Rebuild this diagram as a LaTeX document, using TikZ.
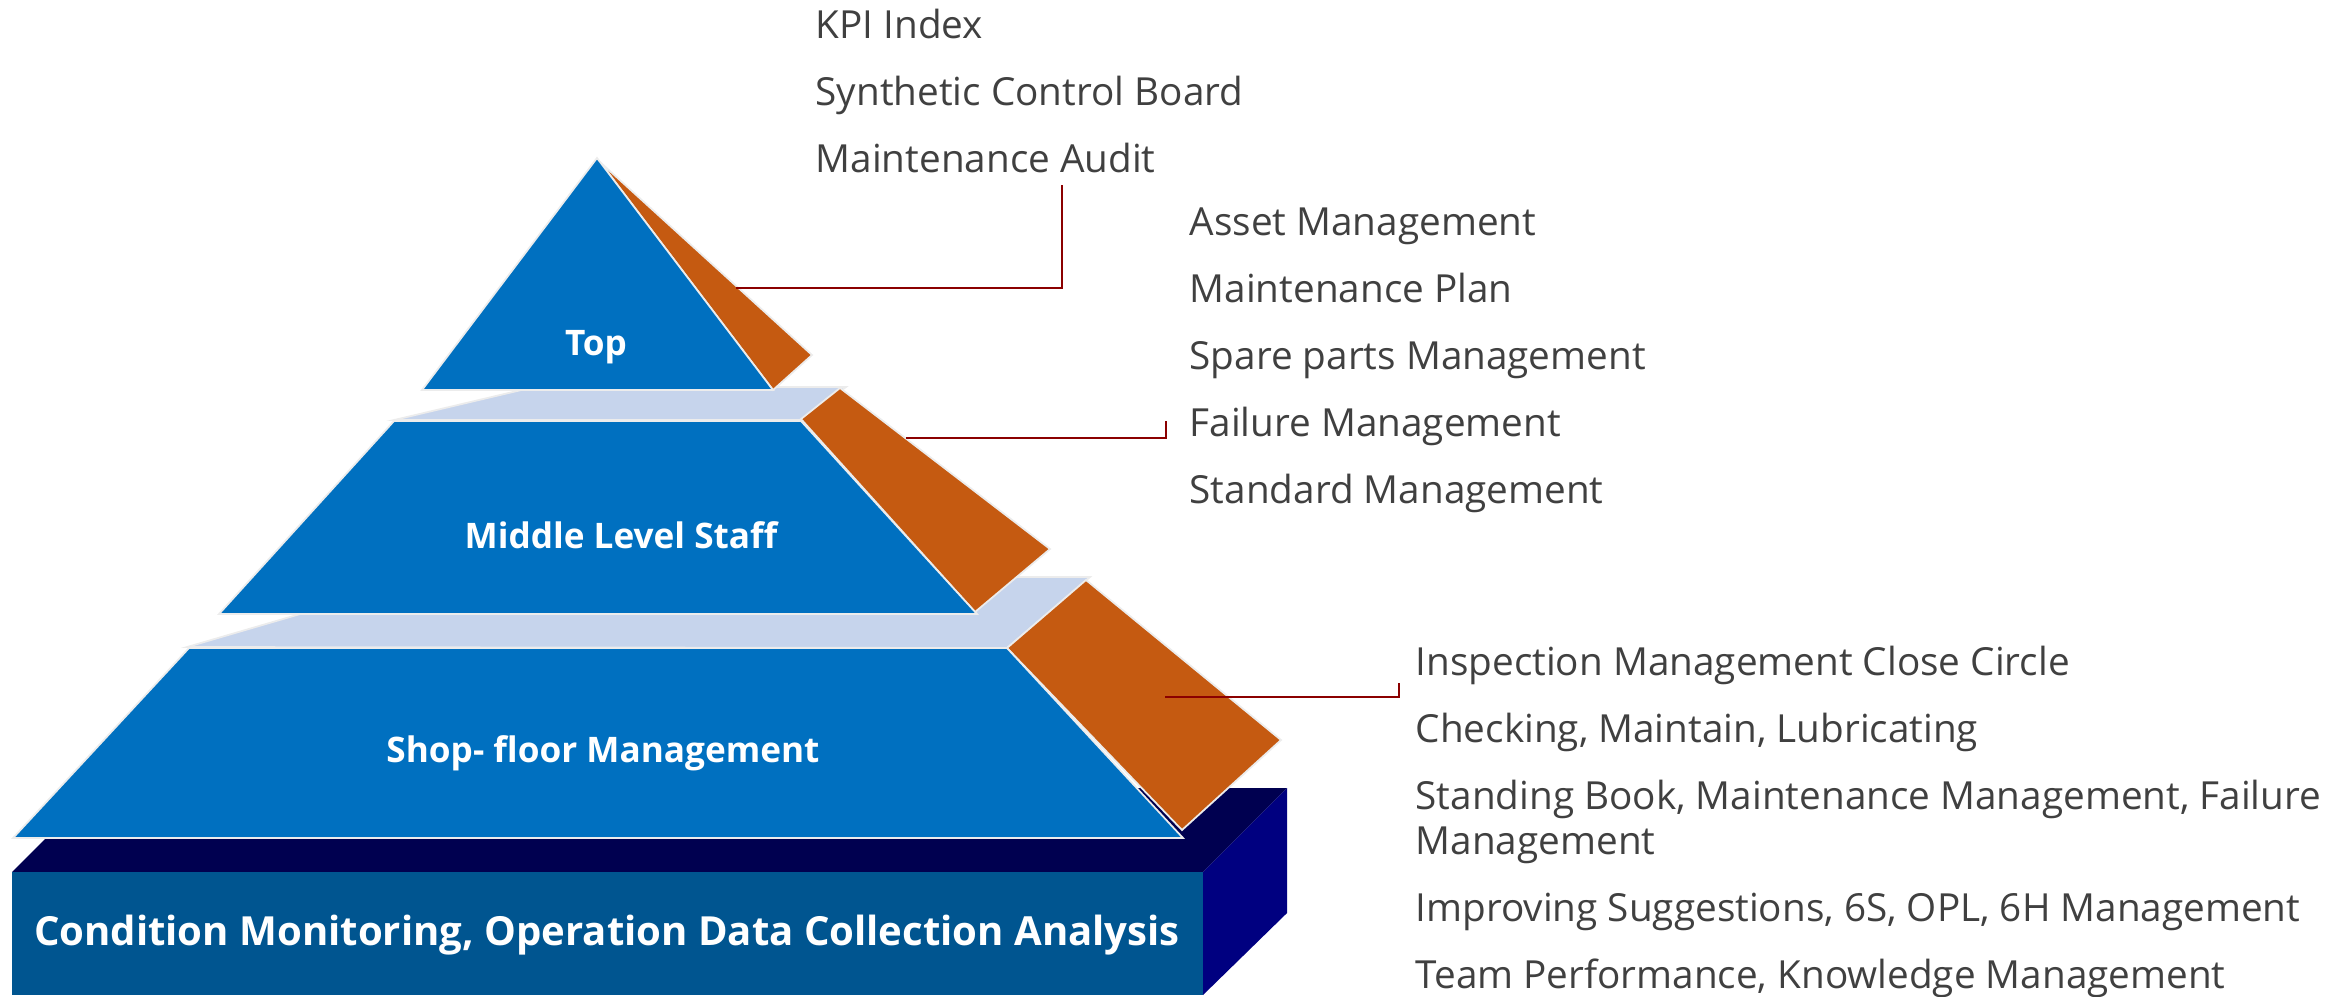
\documentclass[tikz,border=0pt]{standalone}
\usepackage{fontspec}
\setmainfont{Open Sans}
\usetikzlibrary{positioning}

\definecolor{lvlblue}{HTML}{0070C0}
\definecolor{lvlorange}{HTML}{C55A11}
\definecolor{lvlband}{HTML}{C6D4EC}
\definecolor{basefront}{HTML}{005590}
\definecolor{basetop}{HTML}{000050}
\definecolor{baseside}{HTML}{000080}
\definecolor{itemgray}{HTML}{404040}
\definecolor{linkred}{HTML}{8B0000}

\begin{document}
\begin{tikzpicture}[x=0.01cm,y=-0.01cm,
    face/.style={draw=gray!15,line width=0.5pt},
    lvl/.style={text=white,font=\bfseries\fontsize{10}{12}\selectfont,anchor=base,inner sep=0pt},
    item/.style={text=itemgray,font=\fontsize{11}{12.8}\selectfont,anchor=base west,inner sep=0pt,align=left},
    link/.style={draw=linkred,line width=0.7pt}]
    \useasboundingbox (0,0) rectangle (2346,996);

    % base block
    \fill[basetop]   (12,872) -- (96,788) -- (1287,788) -- (1203,872) -- cycle;
    \fill[baseside]  (1203,872) -- (1287,788) -- (1287,913) -- (1203,995) -- cycle;
    \fill[basefront] (12,872) rectangle (1203,995);

    % shop-floor level
    \filldraw[face,fill=lvlband]   (187,647) -- (427,577) -- (1090,577) -- (1007,648) -- cycle;
    \filldraw[face,fill=lvlorange] (1086,580) -- (1281,740) -- (1182,830) -- (1007,648) -- cycle;
    \filldraw[face,fill=lvlblue]   (189,648) -- (1007,648) -- (1183,838) -- (13,838) -- cycle;

    % middle level
    \filldraw[face,fill=lvlband]   (394,420) -- (534,387) -- (846,387) -- (801,420) -- cycle;
    \filldraw[face,fill=lvlorange] (840,388) -- (1050,549) -- (975,612) -- (801,419) -- cycle;
    \filldraw[face,fill=lvlblue]   (394,421) -- (801,421) -- (977,614) -- (219,614) -- cycle;

    % top level
    \filldraw[face,fill=lvlorange] (600,162) -- (812,355) -- (773,390) -- cycle;
    \filldraw[face,fill=lvlblue]   (597,158) -- (773,390) -- (422,390) -- cycle;

    \node[lvl] (top)  at (596,355) {Top};
    \node[lvl] (mid)  at (621,548) {Middle Level Staff};
    \node[lvl] (shop) at (603,762) {Shop- floor Management};
    \node[lvl,font=\bfseries\fontsize{11.4}{14}\selectfont] (base) at (607,945)
        {Condition Monitoring, Operation Data Collection Analysis};

    \node[item] (kpi) at (815,38) {KPI Index};
    \node[item,below=0.67cm of kpi.base west,anchor=base west]   (board) {Synthetic Control Board};
    \node[item,below=0.67cm of board.base west,anchor=base west] (audit) {Maintenance Audit};

    \node[item] (asset) at (1189,235) {Asset Management};
    \node[item,below=0.67cm of asset.base west,anchor=base west] (plan)    {Maintenance Plan};
    \node[item,below=0.67cm of plan.base west,anchor=base west]  (spare)   {Spare parts Management};
    \node[item,below=0.67cm of spare.base west,anchor=base west] (failure) {Failure Management};
    \node[item,below=0.67cm of failure.base west,anchor=base west] (standard) {Standard Management};

    \node[item] (inspect) at (1415,675) {Inspection Management Close Circle};
    \node[item,below=0.67cm of inspect.base west,anchor=base west] (check) {Checking, Maintain, Lubricating};
    \node[item,below=1.12cm of check.base west,anchor=base west]   (book)
        {Standing Book, Maintenance Management, Failure\\Management};
    \node[item,below=0.67cm of book.base west,anchor=base west]    (improve) {Improving Suggestions, 6S, OPL, 6H Management};
    \node[item,below=0.67cm of improve.base west,anchor=base west] (team)    {Team Performance, Knowledge Management};

    \coordinate (toptip)  at (736,288);
    \coordinate (topend)  at (1062,185);
    \coordinate (midtip)  at (906,438);
    \coordinate (midend)  at (1166,421);
    \coordinate (shoptip) at (1165,697);
    \coordinate (shopend) at (1399,683);

    \draw[link] (toptip)  -| (topend);
    \draw[link] (midtip)  -| (midend);
    \draw[link] (shoptip) -| (shopend);
\end{tikzpicture}
\end{document}
